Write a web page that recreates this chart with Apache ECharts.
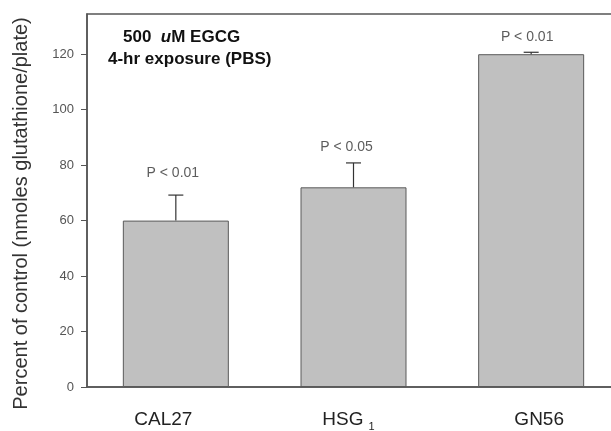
<!DOCTYPE html>
<html><head><meta charset="utf-8">
<script src="https://cdn.jsdelivr.net/npm/echarts@6/dist/echarts.min.js"></script>
<style>html,body{margin:0;padding:0;background:#fff}#c{width:611px;height:431px}</style>
</head><body><div id="c"></div>
<script>
const categories = ['CAL27', 'HSG1', 'GN56'];
const means = [60, 72, 120];
const errors = [9.2, 8.8, 0.7];
const pLabels = ['P < 0.01', 'P < 0.05', 'P < 0.01'];
const yTicks = [0, 20, 40, 60, 80, 100, 120];
const yName = 'Percent of control (nmoles glutathione/plate)';

const chart = echarts.init(document.getElementById('c'), null, {renderer: 'canvas'});
const FONT = 'Liberation Sans, Arial, sans-serif';
const labelPads = [[0, 25, 0, 0], [0, 10, 0, 0], [0, 0, 0, 16]];
const pOffsets = [[-3, 0], [-7, 0], [-4, 0]];
const pDist = [15, 9, 8];

chart.setOption({
  animation: false,
  grid: {left: 87, width: 533, top: 14, height: 373, outerBoundsMode: 'none', containLabel: false,
    show: true, borderColor: '#555', borderWidth: 1.5, backgroundColor: 'transparent'},
  xAxis: {
    type: 'category',
    data: categories.map((c, i) => ({
      value: c,
      textStyle: {padding: labelPads[i]}
    })),
    axisLine: {lineStyle: {color: '#555', width: 1.5}},
    axisTick: {show: false},
    axisLabel: {
      fontFamily: FONT, fontSize: 19, color: '#222', margin: 22,
      formatter: v => v === 'HSG1' ? '{m|HSG}{sub|1}' : '{m|' + v + '}',
      rich: {
        m: {fontSize: 19, fontFamily: FONT, color: '#222', lineHeight: 22, verticalAlign: 'middle'},
        sub: {fontSize: 11, fontFamily: FONT, color: '#222', lineHeight: 22, verticalAlign: 'middle', padding: [14, 0, 0, 5]}
      }
    }
  },
  yAxis: {
    type: 'value', min: 0, max: 134.5, interval: 20,
    name: yName, nameLocation: 'middle', nameGap: 56,
    nameTextStyle: {fontFamily: FONT, fontSize: 20, color: '#333', padding: [0, 26, 0, 0]},
    axisLine: {show: true, lineStyle: {color: '#555', width: 1.5}},
    axisTick: {show: true, length: 6, lineStyle: {color: '#555'}, customValues: yTicks},
    axisLabel: {fontFamily: FONT, fontSize: 13, color: '#555', margin: 13, customValues: yTicks},
    splitLine: {show: false}
  },
  series: [
    {
      type: 'bar', data: means, barWidth: 106,
      itemStyle: {color: '#c0c0c0', borderColor: '#5a5a5a', borderWidth: 1}
    },
    {
      type: 'custom',
      data: means.map((m, i) => [i, m, m + errors[i]]),
      renderItem: (params, api) => {
        const p0 = api.coord([api.value(0), api.value(1)]);
        const p1 = api.coord([api.value(0), api.value(2)]);
        const st = {stroke: '#333', lineWidth: 1.2};
        return {type: 'group', children: [
          {type: 'line', shape: {x1: p0[0], y1: p0[1], x2: p1[0], y2: p1[1]}, style: st},
          {type: 'line', shape: {x1: p1[0] - 7.5, y1: p1[1], x2: p1[0] + 7.5, y2: p1[1]}, style: st}
        ]};
      },
      z: 5
    },
    {
      type: 'scatter', symbolSize: 0,
      data: means.map((m, i) => ({
        value: [i, m + errors[i]],
        label: {show: true, position: 'top', distance: pDist[i], offset: pOffsets[i], formatter: pLabels[i]}
      })),
      label: {fontFamily: FONT, fontSize: 14, color: '#333'},
      z: 6
    }
  ],
  graphic: [
    {type: 'text', left: 123, top: 29, style: {text: '500  {i|u}M EGCG', font: 'bold 17px ' + FONT, fill: '#111',
      rich: {i: {fontStyle: 'italic', fontWeight: 'bold', fontSize: 17, fontFamily: FONT, fill: '#111'}}}},
    {type: 'text', left: 108, top: 51, style: {text: '4-hr exposure (PBS)', font: 'bold 17px ' + FONT, fill: '#111'}}
  ]
});
</script></body></html>
